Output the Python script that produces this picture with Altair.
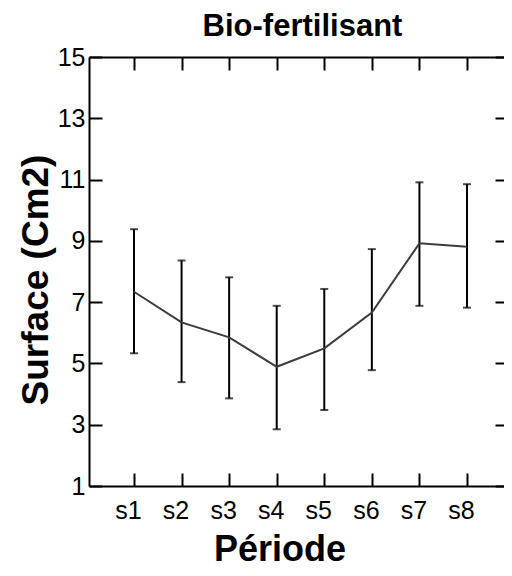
import altair as alt
import pandas as pd

# ---- data ----
periods = ["s1", "s2", "s3", "s4", "s5", "s6", "s7", "s8"]
means = [7.34, 6.34, 5.85, 4.89, 5.49, 6.66, 8.92, 8.81]
lows = [5.33, 4.39, 3.86, 2.85, 3.48, 4.78, 6.88, 6.82]
highs = [9.38, 8.36, 7.81, 6.88, 7.43, 8.73, 10.91, 10.85]
y_ticks = [1, 3, 5, 7, 9, 11, 13, 15]

positions = list(range(1, len(periods) + 1))
df = pd.DataFrame({"periode": periods, "pos": positions, "mean": means,
                   "low": lows, "high": highs})

label_expr = "[" + ",".join("'%s'" % p for p in periods) + "][datum.value - 1]"

FONT = "Liberation Sans"
TL = 13  # inward tick length

xscale = alt.Scale(domain=[0.054, 8.778], nice=False, zero=False)
yscale = alt.Scale(domain=[1, 15], nice=False, zero=False)


def tick_axis(orient, size, values):
    return alt.Axis(orient=orient, offset=-size, tickSize=size, ticks=True, tickWidth=2,
                    tickColor="black", domain=False, labels=False, title=None,
                    grid=False, values=values)


x_main_axis = alt.Axis(
    orient="bottom", values=positions, domain=True, domainColor="black", domainWidth=2,
    ticks=False, tickSize=0, labels=True, labelExpr=label_expr, labelFont=FONT,
    labelFontSize=25, labelColor="black", labelAngle=0, labelPadding=32,
    labelBaseline="alphabetic", labelOffset=-6, labelFlush=False, labelOverlap=False,
    title="Période", titleFont=FONT, titleFontSize=36,
    titleFontWeight="bold", titleColor="black", titleX=190.5, titleY=74,
    titleAlign="center", titleBaseline="alphabetic", grid=False)

y_main_axis = alt.Axis(
    orient="left", values=y_ticks, domain=True, domainColor="black", domainWidth=2,
    ticks=False, tickSize=0, labels=True, labelFont=FONT, labelFontSize=25,
    labelColor="black", labelPadding=4, labelBaseline="middle", labelFlush=False,
    labelOverlap=False,
    title="Surface (Cm2)", titleFont=FONT, titleFontSize=37, titleFontWeight="bold",
    titleColor="black", titleX=-42, titleY=222.5, titleAngle=-90,
    titleAlign="center", titleBaseline="alphabetic", grid=False)

x_top_axis = alt.Axis(
    orient="top", values=positions, domain=True, domainColor="black", domainWidth=2,
    ticks=False, tickSize=0, labels=False, grid=False,
    title="Bio-fertilisant", titleFont=FONT, titleFontSize=31, titleFontWeight="bold",
    titleColor="black", titleX=213, titleY=-22, titleAlign="center",
    titleBaseline="alphabetic")

base = alt.Chart(df)

bars = base.mark_rule(color="black", strokeWidth=2).encode(
    x=alt.X("pos:Q", scale=xscale, axis=x_main_axis),
    y=alt.Y("low:Q", scale=yscale, axis=y_main_axis),
    y2="high:Q",
)

caps = base.transform_fold(["low", "high"], as_=["bound", "val"]).mark_tick(
    color="black", thickness=2, size=8, orient="horizontal"
).encode(
    x=alt.X("pos:Q", scale=xscale, axis=tick_axis("bottom", TL, positions)),
    y=alt.Y("val:Q", scale=yscale, axis=tick_axis("left", TL, y_ticks)),
)

line = base.mark_line(color="#3c3c3c", strokeWidth=2).encode(
    x=alt.X("pos:Q", scale=xscale, axis=x_top_axis),
    y=alt.Y("mean:Q", scale=yscale, axis=tick_axis("right", 9, y_ticks)),
)

ghost = base.mark_point(opacity=0).encode(
    x=alt.X("pos:Q", scale=xscale, axis=tick_axis("top", TL, positions)),
    y=alt.Y("mean:Q", scale=yscale, axis=None),
)

chart = (
    alt.layer(bars, caps, line, ghost)
    .resolve_axis(x="independent", y="independent")
    .properties(
        width=415,
        height=429,
        autosize=alt.AutoSizeParams(type="none"),
        padding={"left": 81, "top": 49, "right": 0, "bottom": 82},
        background="white",
    )
    .configure_view(stroke=None)
)

chart.save("out.html", embed_options={"renderer": "svg", "actions": False})
